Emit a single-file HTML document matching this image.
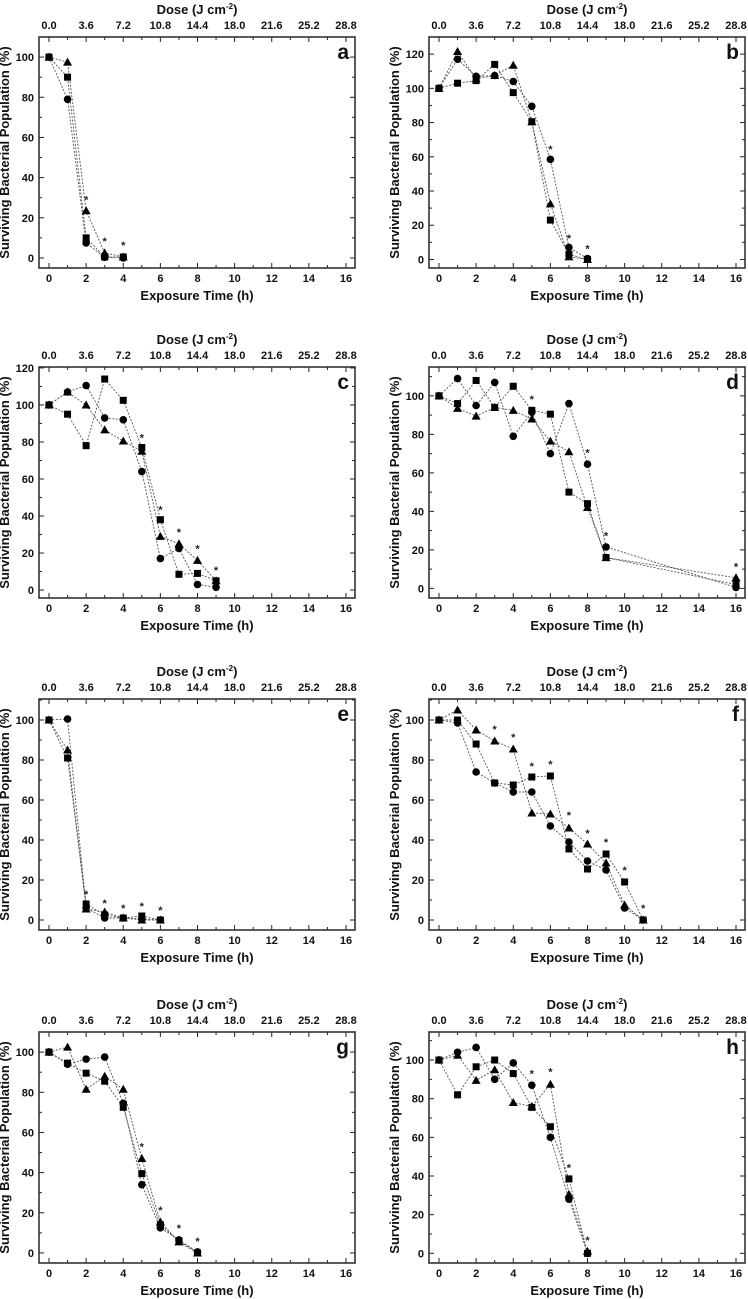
<!DOCTYPE html>
<html><head><meta charset="utf-8">
<style>
html,body{margin:0;padding:0;background:#fff;}
svg{display:block;font-family:"Liberation Sans",Arial,sans-serif;}
.tk{font-size:11px;font-weight:bold;fill:#111;}
.tt{font-size:13px;font-weight:bold;fill:#111;}
</style></head>
<body>
<svg id="fig" width="748" height="1299" viewBox="0 0 748 1299" xmlns="http://www.w3.org/2000/svg"></svg>
<script>
// ---- data ----
const panelLetters = ["a","b","c","d","e","f","g","h"];
const yMins = [-5,-5,-4.3,-5,-5,-5,-5,-5];
const yMaxs = [110,130,120.5,115,110.5,110.5,110,114.5];
const yTickStep = [20,20,20,20,20,20,20,20];
const xTickLabels = ["0","2","4","6","8","10","12","14","16"];
const doseTickLabels = ["0.0","3.6","7.2","10.8","14.4","18.0","21.6","25.2","28.8"];

const a_x = [0,1,2,3,4];
const a_sq = [100,90,10,0.5,0.5];
const a_ci = [100,79,7.5,0.3,0];
const a_tr = [100,97.5,23.5,2.5,0.5];
const a_starX = [2,3,4];
const a_starY = [29.5,9,7];

const b_x = [0,1,2,3,4,5,6,7,8];
const b_sq = [100,103,104.5,114,97.5,80.5,23,3,0];
const b_ci = [100,117,107,107.5,104,89.5,58.5,7,0.5];
const b_tr = [100,121.5,105.5,107.5,113.5,80.5,32.5,1.5,0];
const b_starX = [6,7,8];
const b_starY = [65,13,7];

const c_x = [0,1,2,3,4,5,6,7,8,9];
const c_sq = [100,95,78,114,102.5,77,38,8.5,9,5];
const c_ci = [100,107,110.5,93,92,64,17,22.5,3,1.5];
const c_tr = [100,107,100,86.5,80.5,75,29,25,16,5];
const c_starX = [5,6,7,8,9];
const c_starY = [83,44,32,23,11.5];

const d_x = [0,1,2,3,4,5,6,7,8,9,16];
const d_sq = [100,96,108,94,105,92.5,90.5,50,44,16,2];
const d_ci = [100,109,95,107,79,91.5,70,96,64.5,21.5,0.5];
const d_tr = [100,93.5,89.5,94,92.5,88,76.5,71,42,16,5.5];
const d_starX = [5,8,9,16];
const d_starY = [99,71,28,12];

const e_x = [0,1,2,3,4,5,6];
const e_sq = [100,81,8,2.5,1,2,0];
const e_ci = [100,100.5,6,1,1,0.5,0];
const e_tr = [100,85,5.5,4,1,0,0];
const e_starX = [2,3,4,5,6];
const e_starY = [13.5,9,6.5,7.5,5.5];

const f_x = [0,1,2,3,4,5,6,7,8,9,10,11];
const f_sq = [100,100,88,68.5,67.5,71.5,72,35.5,25.5,33,19,0];
const f_ci = [100,98.5,74,68.5,64,64,47,39,29.5,25,6,0];
const f_tr = [100,105,95,89.5,85.5,53.5,53,46,38,28.5,7.5,0];
const f_starX = [3,4,5,6,7,8,9,10,11];
const f_starY = [96,92,77.5,78.5,53,44,39.5,25.5,6.5];

const g_x = [0,1,2,3,4,5,6,7,8];
const g_sq = [100,94.5,89.5,85.5,72.5,39.5,14,6,0];
const g_ci = [100,94,96.5,97.5,74.5,34,12.5,6.5,0.5];
const g_tr = [100,102.5,81.5,88,81.5,47,15.5,5.5,0];
const g_starX = [5,6,7,8];
const g_starY = [53.5,22,13,6.5];

const h_x = [0,1,2,3,4,5,6,7,8];
const h_sq = [100,82,96.5,100,93,75.5,65.5,38.5,0];
const h_ci = [100,104,106.5,90,98.5,87,60,28,0];
const h_tr = [100,102.5,89.5,95,78,76,87.5,30.5,1];
const h_starX = [5,6,7,8];
const h_starY = [93.5,94.5,45,7.5];

const panelData = [
 [a_x,a_sq,a_ci,a_tr,a_starX,a_starY],
 [b_x,b_sq,b_ci,b_tr,b_starX,b_starY],
 [c_x,c_sq,c_ci,c_tr,c_starX,c_starY],
 [d_x,d_sq,d_ci,d_tr,d_starX,d_starY],
 [e_x,e_sq,e_ci,e_tr,e_starX,e_starY],
 [f_x,f_sq,f_ci,f_tr,f_starX,f_starY],
 [g_x,g_sq,g_ci,g_tr,g_starX,g_starY],
 [h_x,h_sq,h_ci,h_tr,h_starX,h_starY]
];

// ---- drawing ----
const NS = "http://www.w3.org/2000/svg";
const svg = document.getElementById("fig");
function mk(tag, attrs, parent){
  const e = document.createElementNS(NS, tag);
  for (const k in attrs) e.setAttribute(k, attrs[k]);
  (parent||svg).appendChild(e);
  return e;
}
const colLeft = [39, 429];
const colRight = [355, 745];
const rowTop = [37, 367, 699, 1032];
const boxH = 231;

panelData.forEach((pd, i) => {
  const col = i % 2, row = Math.floor(i / 2);
  const L = colLeft[col], R = colRight[col], T = rowTop[row], B = T + boxH;
  const x0 = L + 10, x16 = R - 9;
  const xs = v => x0 + (x16 - x0) * v / 16;
  const ymin = yMins[i], ymax = yMaxs[i];
  const ys = v => B - (v - ymin) / (ymax - ymin) * (B - T);
  const g = mk("g", {});
  
  

  for (let h = 0; h <= 16; h++) {
    const X = xs(h), len = h % 2 === 0 ? 5 : 3;
    mk("line", {x1:X, y1:B, x2:X, y2:B-len, stroke:"#222", "stroke-width":1}, g);
    mk("line", {x1:X, y1:T, x2:X, y2:T+len, stroke:"#222", "stroke-width":1}, g);
  }
  xTickLabels.forEach((lab, k) => {
    const t = mk("text", {x:xs(k*2), y:B+14, "text-anchor":"middle", class:"tk"}, g);
    t.textContent = lab;
    
    
  });
  doseTickLabels.forEach((lab, k) => {
    const t = mk("text", {x:xs(k*2), y:T-8, "text-anchor":"middle", class:"tk"}, g);
    t.textContent = lab;
    
    
  });
  const step = yTickStep[i];
  for (let v = 0; v <= ymax; v += step/2) {
    const Y = ys(v), major = (v % step) === 0, len = major ? 5 : 3;
    mk("line", {x1:L, y1:Y, x2:L+len, y2:Y, stroke:"#222", "stroke-width":1}, g);
    mk("line", {x1:R, y1:Y, x2:R-len, y2:Y, stroke:"#222", "stroke-width":1}, g);
    if (major) {
      const t = mk("text", {x:L-5, y:Y+4, "text-anchor":"end", class:"tk"}, g);
      t.textContent = String(v);
      
      
    }
  }
  const box = mk("rect", {x:L, y:T, width:R-L, height:B-T, fill:"none", stroke:"#333", "stroke-width":1.6}, g);
  
  

  const xt = mk("text", {x:(L+R)/2, y:B+32, "text-anchor":"middle", class:"tt"}, g);
  xt.textContent = "Exposure Time (h)";
  
  
  const dt = mk("text", {x:(L+R)/2, y:T-23, "text-anchor":"middle", class:"tt"}, g);
  dt.innerHTML = 'Dose (J cm<tspan dy="-5" font-size="8">-2</tspan><tspan dy="5">)</tspan>';
  
  
  const yt = mk("text", {x:0, y:0, "text-anchor":"middle", class:"tt", transform:`translate(${L-30},${(T+B)/2}) rotate(-90)`}, g);
  yt.textContent = "Surviving Bacterial Population (%)";
  
  
  const pl = mk("text", {x:R-6, y:T+22, "text-anchor":"end", "font-size":"21", "font-weight":"bold", fill:"#111"}, g);
  pl.textContent = panelLetters[i];
  
  

  const xv = pd[0];
  const names = ["square","circle","triangle"];
  [1,2,3].forEach((si, n) => {
    const vals = pd[si];
    const pts = xv.map((x, k) => xs(x) + "," + ys(vals[k])).join(" ");
    const pline = mk("polyline", {points:pts, fill:"none", stroke:"#555", "stroke-width":0.9, "stroke-dasharray":"2,1.5"}, g);
    
    
  });
  [1,2,3].forEach((si, n) => {
    const vals = pd[si];
    xv.forEach((x, k) => {
      const X = xs(x), Y = ys(vals[k]);
      let m;
      if (n === 0) m = mk("rect", {x:X-3.5, y:Y-3.5, width:7, height:7, fill:"#000"}, g);
      else if (n === 1) m = mk("circle", {cx:X, cy:Y, r:3.8, fill:"#000"}, g);
      else m = mk("polygon", {points:`${X},${Y-4.5} ${X-4.5},${Y+3.5} ${X+4.5},${Y+3.5}`, fill:"#000"}, g);
      
      
    });
  });
  const sx = pd[4], sy = pd[5];
  sx.forEach((x, k) => {
    const t = mk("text", {x:xs(x), y:ys(sy[k])+5, "text-anchor":"middle", "font-size":"11", "font-weight":"bold", fill:"#222"}, g);
    t.textContent = "*";
    
    
  });
});
</script>
</body></html>
